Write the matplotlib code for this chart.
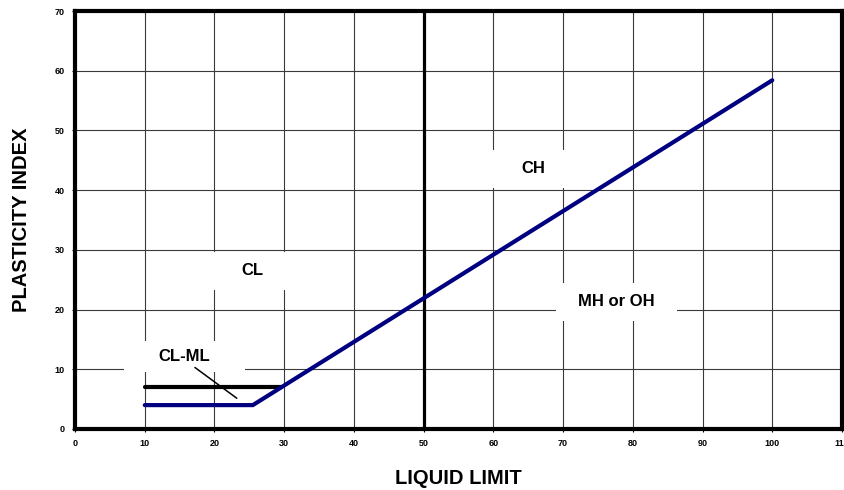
import matplotlib
matplotlib.use("Agg")
import matplotlib.pyplot as plt
from matplotlib.patches import Rectangle

# plasticity chart values
aline_ll = [10, 25.5, 100]
aline_pi = [4, 4, 58.4]
clml_ll = [10, 29.6]
clml_pi = [7, 7]
ll_split = 50
x_ticks = list(range(0, 111, 10))
y_ticks = list(range(0, 71, 10))

# zone labels: text, LL, PI
zones = [
    ("CL", 25.4, 26.6),
    ("CH", 65.7, 43.6),
    ("MH or OH", 77.7, 21.4),
    ("CL-ML", 15.7, 12.2),
]
box_w, box_h = 17.3, 6.4
leader_from, leader_to = (17.2, 10.3), (23.2, 5.15)

NAVY = "#000080"
plt.rcParams.update({"font.family": ["Liberation Sans", "DejaVu Sans"],
                     "font.weight": "bold"})

fig = plt.figure(figsize=(8.45, 4.9), dpi=100, facecolor="white")
ax = fig.add_axes([0.0888, 0.1245, 0.9076, 0.853])
ax.set_xlim(0, 110)
ax.set_ylim(0, 70)
ax.set_xticks(x_ticks)
ax.set_yticks(y_ticks)
ax.set_xticklabels([str(t) for t in x_ticks], fontsize=6.5, fontweight="bold")
ax.set_yticklabels([str(t) for t in y_ticks], fontsize=6.5, fontweight="bold")
ax.tick_params(length=2.5, width=0.8, pad=5)
ax.grid(True, color="#3a3a3a", lw=0.8, zorder=0)
ax.set_axisbelow(True)
for s in ax.spines.values():
    s.set_linewidth(3)

ax.set_xlabel("LIQUID LIMIT", fontsize=14.5, fontweight="bold", labelpad=15)
ax.set_ylabel("PLASTICITY INDEX", fontsize=14.5, fontweight="bold", labelpad=17)

# label boxes hide the grid behind the text
for txt, x, y in zones:
    h = box_h if txt != "CL-ML" else 5.2
    ax.add_patch(Rectangle((x - box_w / 2, y - h / 2 - 0.1), box_w, h,
                           facecolor="white", edgecolor="none", zorder=2))
    ax.text(x, y, txt, fontsize=12, fontweight="bold", ha="center", va="center",
            zorder=4)

ax.axvline(ll_split, color="black", lw=2.3, zorder=3)
ax.plot(clml_ll, clml_pi, color="black", lw=3, solid_capstyle="round", zorder=3)
ax.plot(aline_ll, aline_pi, color=NAVY, lw=3, solid_capstyle="round",
        solid_joinstyle="miter", zorder=3)
ax.annotate("", xy=leader_to, xytext=leader_from,
            arrowprops=dict(arrowstyle="-", lw=1.1, color="black",
                            shrinkA=0, shrinkB=0), zorder=4)

fig.savefig("out.png", dpi=100, facecolor="white")
